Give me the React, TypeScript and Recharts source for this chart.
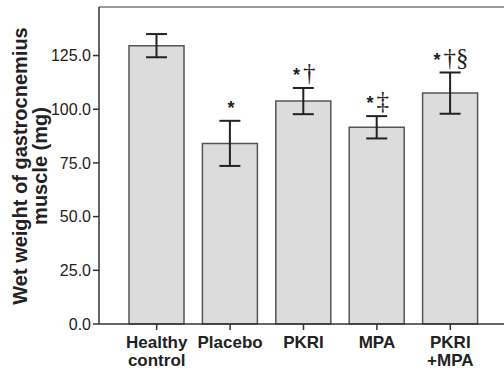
import React from 'react';
import { BarChart, Bar, XAxis, YAxis, ErrorBar, LabelList, ReferenceLine } from 'recharts';

const categories = ['Healthy control', 'Placebo', 'PKRI', 'MPA', 'PKRI +MPA'];
const means = [129.6, 84.1, 103.8, 91.6, 107.5];
const errors = [5.4, 10.5, 6.1, 5.2, 9.6];
const notes = ['', '*', '*†', '*‡', '*†§'];
const yTicks = [0, 25, 50, 75, 100, 125];
const yMax = 147.6;

const data = categories.map((c, i) => ({ name: c, mean: means[i], err: errors[i], note: notes[i] }));

const SANS = '"Liberation Sans", Arial, sans-serif';
const SERIF = '"Liberation Serif", "DejaVu Serif", serif';

const XTick = (props: any) => {
  const { x, y, payload } = props;
  const lines = String(payload.value).split(' ');
  return (
    <text textAnchor="middle" fontFamily={SANS} fontWeight="bold" fontSize={17} style={{ fill: '#222' }}>
      {lines.map((l, i) => (
        <tspan key={i} x={x} y={y + 16 + i * 17.5}>{l}</tspan>
      ))}
    </text>
  );
};

const Note = (props: any) => {
  const { x, y, width, height, value } = props;
  if (!value) return null;
  const idx = notes.indexOf(value);
  if (idx < 0) return null;
  const ppu = height / means[idx];
  const errTop = y - errors[idx] * ppu;
  const chars = Array.from(String(value));
  return (
    <text x={x + width / 2 + 1} y={errTop - 7} textAnchor="middle" style={{ fill: '#222' }}>
      {chars.map((c, i) =>
        c === '*' ? (
          <tspan key={i} fontFamily={SANS} fontWeight="bold" fontSize={18}>{c}</tspan>
        ) : (
          <tspan key={i} fontFamily={SERIF} fontSize={25} dx={i === 1 ? 3 : 0}>{c}</tspan>
        )
      )}
    </text>
  );
};

const YLabel = () => (
  <text transform="translate(27,166) rotate(-90)" textAnchor="middle" fontFamily={SANS} fontWeight="bold" fontSize={20} style={{ fill: '#222' }}>
    <tspan x={0} y={0}>Wet weight of gastrocnemius</tspan>
    <tspan x={0} y={20}>muscle (mg)</tspan>
  </text>
);

export default function App() {
  return (
    <div style={{ position: 'absolute', left: 0, top: 0, background: '#fff' }}>
      <BarChart width={504} height={377} data={data} margin={{ top: 7, right: 0, left: 0, bottom: 0 }} barSize={55}>
        <XAxis
          dataKey="name"
          height={53}
          interval={0}
          padding={{ left: 21, right: 17 }}
          tickSize={6}
          tick={<XTick />}
          axisLine={{ stroke: '#333', strokeWidth: 1.5 }}
          tickLine={{ stroke: '#333', strokeWidth: 1.5 }}
        />
        <YAxis
          width={99}
          domain={[0, yMax]}
          ticks={yTicks}
          tickFormatter={(v: number) => v.toFixed(1)}
          tickSize={6}
          tick={{ fontSize: 16, fill: '#222', fontFamily: SANS }}
          axisLine={{ stroke: '#333', strokeWidth: 1.5 }}
          tickLine={{ stroke: '#333', strokeWidth: 1.5 }}
          label={<YLabel />}
        />
        <ReferenceLine y={yMax} stroke="#999" strokeWidth={2} />
        <Bar dataKey="mean" fill="#dcdcdc" stroke="#555" strokeWidth={1.5} isAnimationActive={false}>
          <ErrorBar dataKey="err" width={10.5} stroke="#222" strokeWidth={2} />
          <LabelList dataKey="note" content={<Note />} />
        </Bar>
      </BarChart>
    </div>
  );
}
